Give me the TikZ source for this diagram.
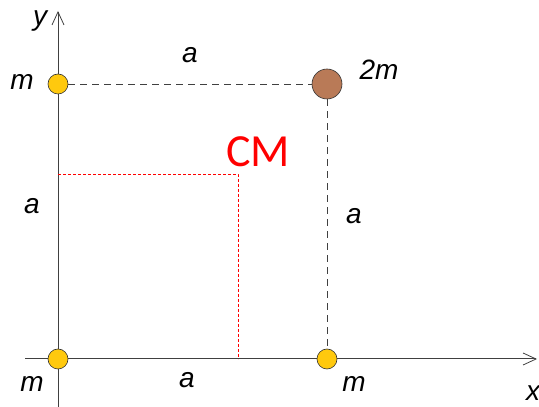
\documentclass[tikz,border=0pt]{standalone}
\usepackage{fontspec}
\setmainfont{Liberation Sans}
\newfontfamily\cmfont{Carlito}
\usetikzlibrary{arrows.meta}
\definecolor{gold}{HTML}{FFC90E}
\definecolor{clay}{HTML}{B97A57}

\begin{document}
\begin{tikzpicture}[x=1pt,y=1pt,
  mass/.style={circle,draw=black!80,fill=gold,minimum size=20pt,inner sep=0pt,line width=.6pt},
  heavy/.style={circle,draw=black!80,fill=clay,minimum size=30pt,inner sep=0pt,line width=.6pt},
  lbl/.style={font=\fontsize{28}{30}\selectfont\itshape},
  axis/.style={black!75,line width=1pt,-{Straight Barb[length=13pt,width=12pt,line width=.8pt]}},
  guide/.style={black!75,line width=.8pt,dash pattern=on 7pt off 5pt}]
\useasboundingbox (0,0) rectangle (539,407);
\coordinate (xs) at (25,48);
\coordinate (xe) at (537,48);
\coordinate (ys) at (58,0);
\coordinate (ye) at (58,396);
\coordinate (cm) at (238,233);
\coordinate (cmy) at (58,233);
\coordinate (cmx) at (238,48);
\draw[axis] (xs) -- (xe);
\draw[axis] (ys) -- (ye);
% guide lines to the centre of mass
\draw[red,line width=.6pt,densely dashed] (cmy) -- (cm) -- (cmx);
\node[mass] (m1) at (58,48) {};
\node[mass] (m2) at (58,323) {};
\node[mass] (m3) at (327,48) {};
\node[heavy] (m4) at (327,323) {};
\draw[guide] (m2) -- (m4);
\draw[guide] (m4) -- (m3);
\node[lbl] (ly) at (40,386) {y};
\node[lbl] (lx) at (533,14) {x};
\node[lbl] (l2) at (22,325) {m};
\node[lbl] (l4) at (379,337) {2m};
\node[lbl] (l1) at (32,23) {m};
\node[lbl] (l3) at (354,23) {m};
\node[lbl] (atop) at (190,352) {a};
\node[lbl] (aleft) at (32,201) {a};
\node[lbl] (aright) at (354,191) {a};
\node[lbl] (abot) at (187,27) {a};
\node[text=red,font=\cmfont\fontsize{46}{48}\selectfont] (lcm) at (258,255) {CM};
\end{tikzpicture}
\end{document}
